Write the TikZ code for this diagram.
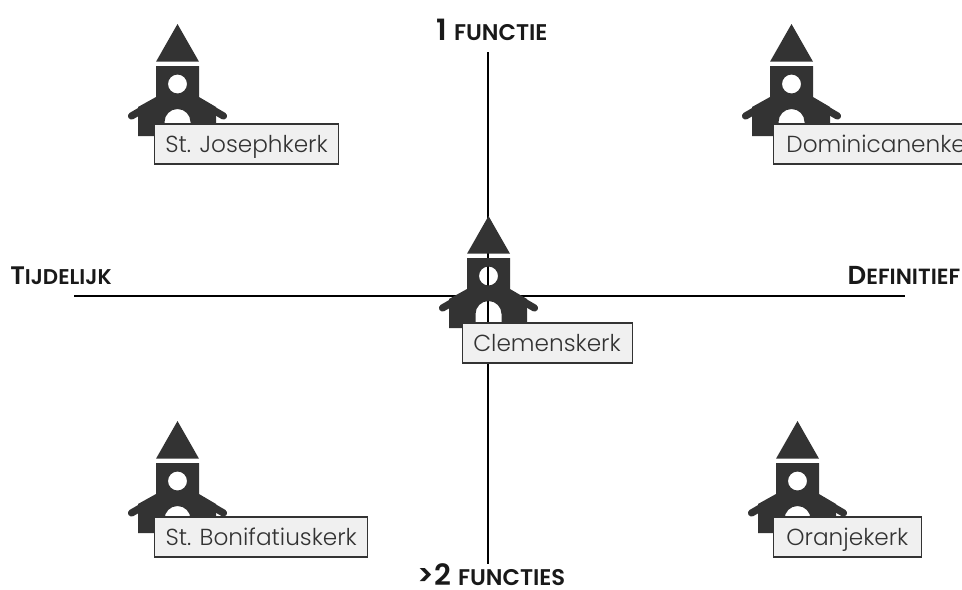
\documentclass[tikz,border=0pt]{standalone}
\usepackage{fontspec}
\setmainfont{Poppins}[UprightFont=* Light,BoldFont=* SemiBold]
\definecolor{kerkgrey}{HTML}{333333}
\begin{document}
\begin{tikzpicture}[x=0.75pt,y=-0.75pt,
  axisline/.style={line width=1.7pt,black},
  kerklabel/.style={draw=black!80,line width=0.8pt,fill=black!6,text=black!80,font=\fontsize{17.4}{19}\selectfont,minimum height=30pt,text height=14pt,text depth=1pt,inner sep=0pt,anchor=west,align=center},
  axistitle/.style={font=\bfseries,text=black!90,inner sep=0pt},
  pics/kerk/.style={code={
    \fill[kerkgrey] (0,0) -- (-21.5,37.7) -- (21.5,37.7) -- cycle;
    \fill[kerkgrey,even odd rule]
      (-21.5,42) -- (21.5,42) -- (21.5,73) -- (38.5,83) -- (38.5,112) -- (-39.5,112) -- (-39.5,83) -- (-21.5,73) -- cycle
      (9.5,60) arc (0:360:9.5 and 9.5)
      (-13,112) -- (-13,98) arc (180:360:13 and 13) -- (13,112) -- cycle;
    \draw[kerkgrey,line width=5.4pt,line cap=round] (21,77.5) -- (46,92);
    \draw[kerkgrey,line width=5.4pt,line cap=round] (-21,77.5) -- (-46,92);
  }}]
\useasboundingbox (0,0) rectangle (962,589);
\clip (0,0) rectangle (962,589);
\coordinate (top) at (488,52);
\coordinate (bottom) at (488,564);
\coordinate (left) at (74,296);
\coordinate (right) at (905,296);
\draw[axisline] (top) -- (bottom);
\draw[axisline] (left) -- (right);
\pic at (177.5,24) {kerk};
\pic at (791.5,24) {kerk};
\pic at (488.5,216) {kerk};
\pic at (177.5,421) {kerk};
\pic at (797.5,421) {kerk};
\node[kerklabel,minimum width=138pt] (jozef) at (154,144) {St. Josephkerk};
\node[kerklabel] (dominicanen) at (772.5,144) {\makebox[190pt][l]{\hspace{10pt}Dominicanenkerk}};
\node[kerklabel,minimum width=127.5pt] (clemens) at (461.5,343) {Clemenskerk};
\node[kerklabel,minimum width=160pt] (bonifatius) at (154,537) {St. Bonifatiuskerk};
\node[kerklabel,minimum width=111.5pt] (oranje) at (772.5,537) {Oranjekerk};
\node[axistitle,anchor=base] (t1) at (492,40) {\fontsize{22}{24}\selectfont 1 \fontsize{17}{18}\selectfont FUNCTIE};
\node[axistitle,anchor=base] (t2) at (491.5,585) {\fontsize{22}{24}\selectfont >2 \fontsize{17}{18}\selectfont FUNCTIES};
\node[axistitle,anchor=base west] (t3) at (10,284) {\fontsize{19}{20}\selectfont T\fontsize{16}{17}\selectfont IJDELIJK};
\node[axistitle,anchor=base east] (t4) at (960.5,284) {\fontsize{19.5}{20}\selectfont D\fontsize{16.5}{17}\selectfont EFINITIEF};
\end{tikzpicture}
\end{document}
